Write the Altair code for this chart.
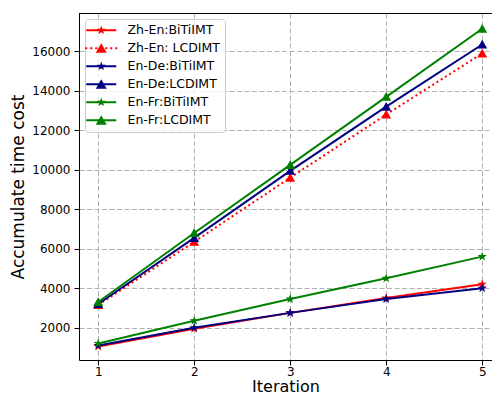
import math
import altair as alt
import pandas as pd

iterations = [1, 2, 3, 4, 5]
series_names = ["Zh-En:BiTiIMT", "Zh-En: LCDIMT", "En-De:BiTiIMT",
                "En-De:LCDIMT", "En-Fr:BiTiIMT", "En-Fr:LCDIMT"]
zh_bi = [1050, 1950, 2750, 3500, 4200]
zh_lc = [3150, 6350, 9600, 12800, 15900]
de_bi = [1100, 2000, 2750, 3450, 4000]
de_lc = [3200, 6550, 9950, 13200, 16350]
fr_bi = [1200, 2350, 3450, 4500, 5600]
fr_lc = [3300, 6800, 10250, 13700, 17150]
series_values = [zh_bi, zh_lc, de_bi, de_lc, fr_bi, fr_lc]
colors = ["#ff0000", "#ff0000", "#000080", "#000080", "#008000", "#008000"]
markers = ["star", "triangle", "star", "triangle", "star", "triangle"]
dotted = [False, True, False, False, False, False]
y_ticks = [2000, 4000, 6000, 8000, 10000, 12000, 14000, 16000]

rows = []
for k, (name, vals) in enumerate(zip(series_names, series_values)):
    for it, v in zip(iterations, vals):
        rows.append({"iteration": it, "cost": v, "series": name, "idx": k})
df = pd.DataFrame(rows)

FONT = "DejaVu Sans"
W, H = 413, 347


def poly(pts):
    return "M" + "L".join(f"{x:.3f},{y:.3f}" for x, y in pts) + "Z"


def star_pts(r_out, r_in):
    pts = []
    for k in range(10):
        a = math.radians(-90 + k * 36)
        r = r_out if k % 2 == 0 else r_in
        pts.append((r * math.cos(a), r * math.sin(a)))
    return pts


STAR = poly(star_pts(1.0, 0.38))
TRI = poly([(0, -0.95), (1.0, 0.8), (-1.0, 0.8)])


def legend_symbol(marker, is_dotted):
    if is_dotted:
        line = "".join(poly([(x0, -0.2), (x0 + 0.4, -0.2), (x0 + 0.4, 0.2), (x0, 0.2)])
                       for x0 in [-3.2 + i for i in range(7)])
    else:
        line = poly([(-3, -0.2), (3, -0.2), (3, 0.2), (-3, 0.2)])
    if marker == "star":
        mk = poly(star_pts(0.95, 0.38))
    else:
        mk = poly([(0, -1), (1.1, 0.9), (-1.1, 0.9)])
    return line + mk


legend_paths = [legend_symbol(m, d) for m, d in zip(markers, dotted)]

x_enc = alt.X("iteration:Q",
              scale=alt.Scale(domain=[0.8, 5.102], nice=False, zero=False),
              axis=alt.Axis(title="Iteration", values=iterations, format="d"))
y_enc = alt.Y("cost:Q",
              scale=alt.Scale(domain=[362, 17948], nice=False, zero=False),
              axis=alt.Axis(title="Accumulate time cost", values=y_ticks, format="d"))

layers = []
for k, (name, col, mk, dt) in enumerate(zip(series_names, colors, markers, dotted)):
    sub = alt.Chart(df[df["idx"] == k])
    line_kw = dict(strokeWidth=2, color=col)
    if dt:
        line_kw["strokeDash"] = [2, 3]
    layers.append(sub.mark_line(**line_kw).encode(x=x_enc, y=y_enc))
    shape = STAR if mk == "star" else TRI
    layers.append(sub.mark_point(shape=shape, filled=True, size=100, opacity=1,
                                 strokeWidth=0, color=col).encode(x=x_enc, y=y_enc))

legend = alt.Legend(title=None, orient="none", legendX=6, legendY=6,
                    padding=5, fillColor="rgba(255,255,255,0.8)",
                    strokeColor="#cccccc", cornerRadius=3,
                    labelFont=FONT, labelFontSize=12.5, labelColor="#000000",
                    symbolSize=100, symbolStrokeWidth=0, symbolOpacity=1,
                    rowPadding=5, labelOffset=20, symbolOffset=5)

legend_layer = alt.Chart(df).mark_point(filled=True, opacity=0).encode(
    x=x_enc, y=y_enc,
    color=alt.Color("series:N", scale=alt.Scale(domain=series_names, range=colors),
                    legend=legend),
    shape=alt.Shape("series:N", scale=alt.Scale(domain=series_names, range=legend_paths),
                    legend=legend),
)
layers.append(legend_layer)

top_frame = alt.Chart(df).mark_rule(color="#000000", strokeWidth=1).encode(
    x=alt.value(0), x2=alt.value(W), y=alt.value(0.5))
layers.append(top_frame)

chart = alt.layer(*layers).properties(
    width=W, height=H, autosize="none",
    padding={"left": 71, "top": 5, "right": 0, "bottom": 35},
).configure_view(stroke="transparent", strokeWidth=0).configure_axis(
    grid=True, gridColor="#b0b0b0", gridDash=[5, 2.5], gridWidth=1,
    domain=True, domainColor="#000000", domainWidth=1,
    tickColor="#000000", tickSize=5, tickWidth=1,
    labelFont=FONT, labelFontSize=12, labelColor="#000000",
    titleFont=FONT, titleFontSize=17, titleFontWeight="normal", titleColor="#000000",
).configure_axisX(titlePadding=1, labelPadding=1, titleFontSize=16).configure_axisY(
    titlePadding=4, labelPadding=4)

chart.save("out.html", embed_options={"renderer": "svg", "actions": False})
